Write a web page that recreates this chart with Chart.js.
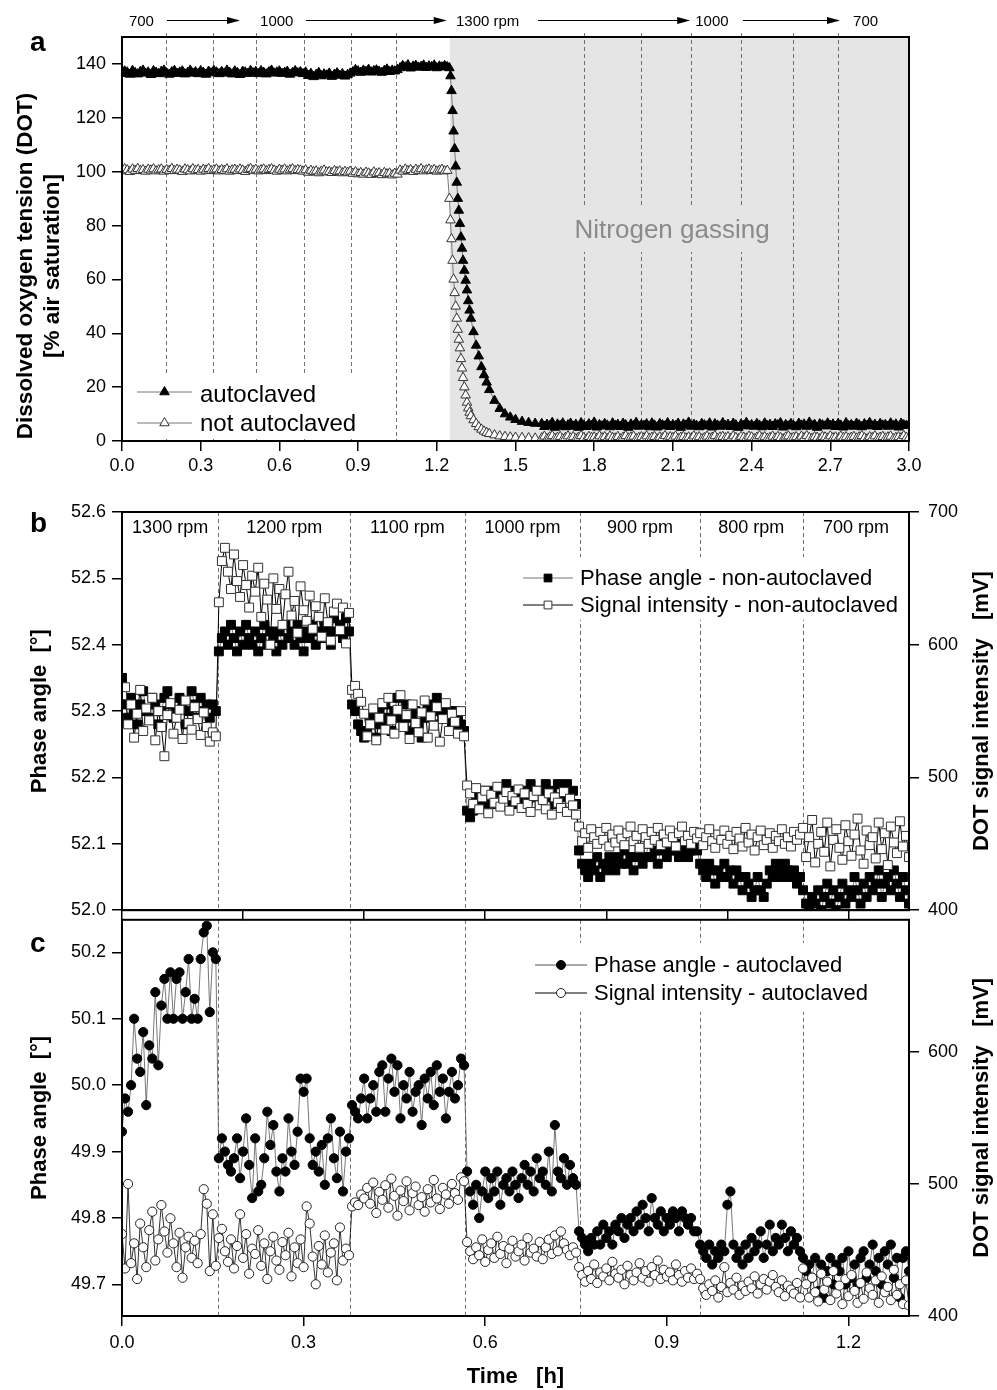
<!DOCTYPE html>
<html>
<head>
<meta charset="utf-8">
<title>DOT sensor: autoclaved vs. not autoclaved</title>
<script src="https://cdn.jsdelivr.net/npm/chart.js@4.4.1/dist/chart.umd.min.js"></script>
<style>
  html, body { margin: 0; padding: 0; background: #fff; }
  #page { position: relative; width: 997px; height: 1390px; }
  #page canvas { position: absolute; left: 0; }
</style>
</head>
<body>
<div id="page">
  <canvas id="chartA" width="997" height="490" style="top:0px"></canvas>
  <canvas id="chartB" width="997" height="440" style="top:490px"></canvas>
  <canvas id="chartC" width="997" height="490" style="top:900px"></canvas>
</div>
<script>
const FONT = '"Liberation Sans", Arial, sans-serif';
Chart.defaults.font.family = FONT;
Chart.defaults.color = '#000';

// ---------- panel a : DOT during rpm steps and nitrogen gassing ----------
const timeA = [
  0,0.01,0.02,0.03,0.04,0.05,0.06,0.07,0.08,0.09,
  0.1,0.11,0.12,0.13,0.14,0.15,0.16,0.17,0.18,0.19,
  0.2,0.21,0.22,0.23,0.24,0.25,0.26,0.27,0.28,0.29,
  0.3,0.31,0.32,0.33,0.34,0.35,0.36,0.37,0.38,0.39,
  0.4,0.41,0.42,0.43,0.44,0.45,0.46,0.47,0.48,0.49,
  0.5,0.51,0.52,0.53,0.54,0.55,0.56,0.57,0.58,0.59,
  0.6,0.61,0.62,0.63,0.64,0.65,0.66,0.67,0.68,0.69,
  0.7,0.71,0.72,0.73,0.74,0.75,0.76,0.77,0.78,0.79,
  0.8,0.81,0.82,0.83,0.84,0.85,0.86,0.87,0.88,0.89,
  0.9,0.91,0.92,0.93,0.94,0.95,0.96,0.97,0.98,0.99,
  1.0,1.01,1.02,1.03,1.04,1.05,1.06,1.07,1.08,1.09,
  1.1,1.11,1.12,1.13,1.14,1.15,1.16,1.17,1.18,1.19,
  1.2,1.21,1.22,1.23,1.24,
  1.248,1.252,1.256,1.26,1.264,1.268,1.272,1.276,1.28,1.284,1.288,1.292,1.296,1.3,
  1.305,1.31,1.315,1.32,1.325,1.33,1.34,1.35,1.36,1.37,1.38,1.39,1.4,
  1.42,1.44,1.46,1.48,1.5,1.525,1.55,1.575,
  1.6,1.61,1.62,1.63,1.64,1.65,1.66,1.67,1.68,1.69,
  1.7,1.71,1.72,1.73,1.74,1.75,1.76,1.77,1.78,1.79,
  1.8,1.81,1.82,1.83,1.84,1.85,1.86,1.87,1.88,1.89,
  1.9,1.91,1.92,1.93,1.94,1.95,1.96,1.97,1.98,1.99,
  2.0,2.01,2.02,2.03,2.04,2.05,2.06,2.07,2.08,2.09,
  2.1,2.11,2.12,2.13,2.14,2.15,2.16,2.17,2.18,2.19,
  2.2,2.21,2.22,2.23,2.24,2.25,2.26,2.27,2.28,2.29,
  2.3,2.31,2.32,2.33,2.34,2.35,2.36,2.37,2.38,2.39,
  2.4,2.41,2.42,2.43,2.44,2.45,2.46,2.47,2.48,2.49,
  2.5,2.51,2.52,2.53,2.54,2.55,2.56,2.57,2.58,2.59,
  2.6,2.61,2.62,2.63,2.64,2.65,2.66,2.67,2.68,2.69,
  2.7,2.71,2.72,2.73,2.74,2.75,2.76,2.77,2.78,2.79,
  2.8,2.81,2.82,2.83,2.84,2.85,2.86,2.87,2.88,2.89,
  2.9,2.91,2.92,2.93,2.94,2.95,2.96,2.97,2.98,2.99,
  3.0
];
const dotAutoclaved = [
  // 0 - 0.70 h
  136.4,137.3,136.9,136.1,137.5,136.7,136.2,137.1,137.6,136.5,
  136.9,136.0,137.4,136.8,136.3,137.2,137.6,136.6,136.1,137.0,
  137.5,136.4,136.9,137.3,136.2,136.7,137.6,136.5,137.0,136.3,
  137.4,136.8,136.1,137.2,136.6,137.5,136.9,136.3,137.1,136.5,
  137.6,136.8,136.2,137.3,136.7,136.0,137.2,136.9,136.4,137.5,
  136.6,137.1,136.3,137.4,136.8,136.2,137.0,137.6,136.5,136.9,
  137.3,136.4,136.8,137.2,136.1,136.7,137.4,136.6,137.0,136.3,
  136.9,
  // 0.71 - 0.87 h
  135.6,136.4,135.2,136.0,136.7,135.5,136.2,135.8,136.5,135.3,136.1,136.6,135.7,136.3,135.4,136.0,136.5,
  // 0.88 - 1.05 h
  137.0,137.8,137.3,136.8,137.6,137.1,137.9,136.9,137.4,137.7,137.2,136.8,137.5,138.0,137.1,137.6,137.3,137.8,
  // 1.06 - 1.24 h
  138.5,139.3,138.8,139.6,138.4,139.1,139.4,138.7,139.0,139.5,138.6,139.2,138.9,139.5,138.5,139.1,138.8,139.3,138.9,
  // nitrogen gassing: decay
  138.5,135.5,130,122.6,115,108.5,102,96,90,85.6,80.7,75.7,71.5,67,
  63.3,59.6,56,52,48.5,45.5,40.5,35.5,31.5,27.5,24.5,21.8,19,
  15,12,10,8.8,7.9,7.2,6.8,6.5,
  // 1.60 - 3.00 h
  6.4,5.3,6.1,5.7,6.8,5.0,6.2,5.6,6.6,5.2,
  5.9,6.5,5.4,6.1,5.0,6.7,5.8,5.3,6.3,5.6,
  6.9,5.1,6.0,5.5,6.4,5.8,5.2,6.6,5.7,6.1,
  5.3,6.5,5.9,5.0,6.2,5.6,6.8,5.4,6.0,5.7,
  6.3,5.2,6.6,5.8,5.1,6.4,5.9,5.5,6.7,5.3,
  6.0,5.6,6.5,5.0,6.2,5.8,6.9,5.4,6.1,5.7,
  5.2,6.4,5.9,5.5,6.6,5.1,6.3,5.8,5.4,6.7,
  5.6,6.1,5.3,6.5,5.9,5.0,6.2,5.7,6.8,5.5,
  6.0,5.4,6.4,5.8,5.2,6.6,5.6,6.1,5.3,6.3,
  5.9,6.7,5.1,6.0,5.5,6.4,5.7,5.2,6.5,5.8,
  6.2,5.4,6.9,5.6,6.1,5.0,6.3,5.9,5.5,6.6,
  5.7,6.2,5.3,6.4,5.8,5.1,6.7,5.6,6.0,5.4,
  6.5,5.9,5.2,6.3,5.7,6.8,5.5,6.1,5.3,6.4,
  5.8,6.0,5.4,6.6,5.6,6.2,5.1,6.5,5.9,5.7,
  6.1
];
const dotNotAutoclaved = [
  // 0 - 0.70 h
  100.2,101.0,100.6,100.0,100.9,100.4,101.1,100.3,100.7,100.1,
  100.8,100.5,101.0,100.2,100.6,100.9,100.1,100.7,100.4,101.1,
  100.3,100.8,100.5,100.0,100.9,100.6,100.2,101.0,100.4,100.7,
  100.1,100.8,100.5,101.1,100.3,100.6,100.9,100.2,100.7,100.4,
  101.0,100.1,100.6,100.8,100.3,100.9,100.5,100.0,100.7,101.1,
  100.4,100.8,100.2,100.6,100.9,100.3,100.7,101.0,100.5,100.1,
  100.8,100.4,100.9,100.2,100.6,101.0,100.3,100.7,100.5,100.1,
  100.6,
  // 0.71 - 0.87 h
  99.7,100.4,99.9,100.2,99.5,100.1,100.5,99.8,100.0,99.6,100.3,99.9,100.2,99.5,100.0,99.7,100.1,
  // 0.88 - 1.05 h
  99.3,99.9,99.1,99.6,99.0,99.7,99.4,98.9,99.8,99.2,99.5,98.8,99.6,99.1,99.4,98.7,99.3,99.0,
  // 1.06 - 1.24 h
  100.5,100.1,100.9,100.3,100.7,100.0,100.8,100.4,101.0,100.2,100.6,100.9,100.3,100.7,100.1,100.5,100.8,100.2,100.4,
  // nitrogen gassing: decay
  90,82,75,67,60,55,50,45.5,41.4,37.7,34.5,30.5,27,23.5,
  20,17,14.3,12.2,10.6,9.3,7.8,6.4,5.2,4.3,3.6,3.1,2.7,
  2.2,1.8,1.6,1.4,1.3,1.2,1.1,1.0,
  // 1.60 - 3.00 h
  1.1,1.7,0.8,1.4,1.9,0.9,1.3,1.6,0.7,1.2,
  1.8,1.0,1.5,0.8,1.3,1.9,1.1,0.7,1.6,1.2,
  1.4,0.9,1.8,1.1,1.5,0.8,1.7,1.2,1.0,1.6,
  0.7,1.3,1.9,1.0,1.4,1.7,0.8,1.2,1.5,1.1,
  1.8,0.9,1.3,1.6,0.7,1.4,1.1,1.9,1.0,1.5,
  1.2,1.7,0.8,1.3,1.6,1.0,1.4,0.9,1.8,1.1,
  1.5,0.7,1.2,1.7,1.0,1.3,1.9,0.8,1.4,1.6,
  1.1,1.5,0.9,1.8,1.2,0.7,1.6,1.3,1.0,1.7,
  1.4,0.8,1.3,1.9,1.1,1.5,0.9,1.2,1.7,1.0,
  1.6,1.2,0.7,1.4,1.8,1.0,1.3,1.5,0.8,1.7,
  1.1,1.9,1.2,0.9,1.5,1.3,0.7,1.6,1.4,1.0,
  1.8,1.1,1.4,0.8,1.7,1.2,1.5,0.9,1.3,1.6,
  1.0,1.4,1.9,1.1,0.7,1.5,1.2,1.8,0.9,1.3,
  1.6,1.0,1.4,1.7,0.8,1.2,1.5,1.1,1.9,1.3,
  1.2
];
const rpmChangesA = [0.168, 0.347, 0.511, 0.695, 0.874, 1.046, 1.760, 1.980, 2.168, 2.359, 2.556, 2.728];
const gassingFrom = 1.25;
const xTicksA = [0, 0.3, 0.6, 0.9, 1.2, 1.5, 1.8, 2.1, 2.4, 2.7, 3.0];
const yTicksA = [0, 20, 40, 60, 80, 100, 120, 140];
const yTitleA = ['Dissolved oxygen tension (DOT)', '[% air saturation]'];

// ---------- panels b and c : rpm steps 1300 -> 700 ----------
const timeBC = [
  0,0.005,0.01,0.015,0.02,0.025,0.03,0.035,0.04,0.045,0.05,0.055,0.06,0.065,0.07,0.075,0.08,0.085,0.09,0.095,
  0.1,0.105,0.11,0.115,0.12,0.125,0.13,0.135,0.14,0.145,0.15,0.155,0.16,0.165,0.17,0.175,0.18,0.185,0.19,0.195,
  0.2,0.205,0.21,0.215,0.22,0.225,0.23,0.235,0.24,0.245,0.25,0.255,0.26,0.265,0.27,0.275,0.28,0.285,0.29,0.295,
  0.3,0.305,0.31,0.315,0.32,0.325,0.33,0.335,0.34,0.345,0.35,0.355,0.36,0.365,0.37,0.375,0.38,0.385,0.39,0.395,
  0.4,0.405,0.41,0.415,0.42,0.425,0.43,0.435,0.44,0.445,0.45,0.455,0.46,0.465,0.47,0.475,0.48,0.485,0.49,0.495,
  0.5,0.505,0.51,0.515,0.52,0.525,0.53,0.535,0.54,0.545,0.55,0.555,0.56,0.565,0.57,0.575,0.58,0.585,0.59,0.595,
  0.6,0.605,0.61,0.615,0.62,0.625,0.63,0.635,0.64,0.645,0.65,0.655,0.66,0.665,0.67,0.675,0.68,0.685,0.69,0.695,
  0.7,0.705,0.71,0.715,0.72,0.725,0.73,0.735,0.74,0.745,0.75,0.755,0.76,0.765,0.77,0.775,0.78,0.785,0.79,0.795,
  0.8,0.805,0.81,0.815,0.82,0.825,0.83,0.835,0.84,0.845,0.85,0.855,0.86,0.865,0.87,0.875,0.88,0.885,0.89,0.895,
  0.9,0.905,0.91,0.915,0.92,0.925,0.93,0.935,0.94,0.945,0.95,0.955,0.96,0.965,0.97,0.975,0.98,0.985,0.99,0.995,
  1.0,1.005,1.01,1.015,1.02,1.025,1.03,1.035,1.04,1.045,1.05,1.055,1.06,1.065,1.07,1.075,1.08,1.085,1.09,1.095,
  1.1,1.105,1.11,1.115,1.12,1.125,1.13,1.135,1.14,1.145,1.15,1.155,1.16,1.165,1.17,1.175,1.18,1.185,1.19,1.195,
  1.2,1.205,1.21,1.215,1.22,1.225,1.23,1.235,1.24,1.245,1.25,1.255,1.26,1.265,1.27,1.275,1.28,1.285,1.29,1.295,
  1.3
];
// panel b, phase angle [deg] (left axis)
const phaseNonAutoclaved = [
  52.35,52.31,52.29,52.32,52.30,52.28,52.31,52.33,52.30,52.29,52.32,52.31,52.28,52.30,52.32,52.33,
  52.31,52.29,52.30,52.32,52.31,52.28,52.30,52.33,52.31,52.29,52.32,52.30,52.31,52.29,52.31,52.30,
  52.39,52.41,52.42,52.40,52.43,52.41,52.39,52.42,52.40,52.43,52.41,52.40,52.42,52.39,52.41,52.43,52.40,52.42,52.41,52.39,52.42,52.40,
  52.43,52.41,52.42,52.40,52.43,52.41,52.39,52.42,52.41,52.43,52.40,52.42,52.41,52.43,52.42,52.40,52.44,52.42,52.43,52.41,52.44,52.42,
  52.31,52.30,52.28,52.27,52.26,52.27,52.29,52.28,52.26,52.30,52.28,52.31,52.29,52.27,52.30,52.32,52.29,52.28,52.31,
  52.27,52.29,52.30,52.28,52.26,52.29,52.31,52.30,52.28,52.32,52.30,52.31,52.29,52.30,52.28,52.30,52.29,52.28,52.27,
  52.15,52.14,52.15,52.17,52.16,52.18,52.17,52.16,52.18,52.17,52.16,52.18,52.17,52.19,52.17,52.16,52.18,52.17,52.18,
  52.16,52.17,52.19,52.18,52.17,52.16,52.18,52.19,52.17,52.18,52.16,52.19,52.17,52.18,52.19,52.17,52.18,52.16,
  52.09,52.07,52.06,52.05,52.07,52.06,52.08,52.05,52.07,52.06,52.08,52.07,52.06,52.08,52.07,52.09,52.07,52.08,52.06,52.08,
  52.09,52.07,52.08,52.10,52.08,52.09,52.07,52.09,52.10,52.08,52.09,52.10,52.09,52.08,52.10,52.09,52.08,52.09,52.10,52.09,
  52.07,52.06,52.05,52.07,52.06,52.04,52.06,52.05,52.07,52.05,52.06,52.04,52.06,52.05,52.03,52.05,52.04,
  52.02,52.03,52.05,52.03,52.02,52.04,52.06,52.05,52.07,52.06,52.05,52.07,52.06,52.05,52.06,52.04,52.05,
  52.03,52.01,52.00,52.02,52.01,52.03,52.00,52.02,52.04,52.01,52.03,52.00,52.02,52.04,52.01,52.03,52.02,52.05,
  52.03,52.01,52.04,52.02,52.05,52.03,52.04,52.06,52.02,52.04,52.05,52.03,52.06,52.04,52.02,52.05,52.03,52.01
];
// panel b, signal intensity [mV] (right axis)
const signalNonAutoclaved = [
  562,568,540,555,530,548,566,535,552,543,560,528,550,538,516,547,556,533,545,551,529,558,541,536,553,544,532,549,538,527,534,531,
  632,663,673,655,642,668,648,636,660,645,628,652,640,658,621,646,634,600,650,627,642,615,
  638,655,622,633,609,644,626,618,637,612,629,621,606,635,617,603,625,631,611,628,601,624,
  566,569,563,557,548,531,540,552,528,545,556,536,560,543,533,551,562,538,547,
  529,555,541,534,549,558,530,546,539,553,527,544,556,535,548,542,533,550,531,
  494,488,480,492,476,485,490,473,487,481,493,478,484,489,475,486,482,491,477,
  488,480,474,486,490,479,483,476,488,472,485,481,477,489,474,484,479,472,
  463,452,458,447,461,455,450,459,453,462,448,457,451,460,454,449,458,463,452,456,
  447,461,455,450,459,453,462,449,457,451,460,455,448,458,463,452,456,450,459,454,
  458,449,455,461,452,447,457,453,460,450,456,446,459,454,448,462,451,
  457,445,455,460,449,453,458,447,456,452,461,450,455,448,459,453,457,
  462,440,455,468,436,450,459,444,466,433,453,461,447,438,464,452,441,457,
  469,445,435,460,449,455,439,466,446,458,434,463,451,443,467,448,456,440
];
// panel c, phase angle [deg] (left axis)
const phaseAutoclaved = [
  49.93,49.98,49.96,50.00,50.10,50.04,50.02,50.08,49.97,50.06,50.04,50.14,50.03,50.12,50.16,50.10,
  50.17,50.10,50.16,50.17,50.10,50.14,50.19,50.10,50.13,50.10,50.19,50.23,50.24,50.11,50.20,50.19,
  49.89,49.92,49.90,49.88,49.87,49.89,49.92,49.86,49.90,49.95,49.88,49.83,49.92,49.84,49.85,49.89,49.96,49.91,49.94,49.87,49.84,49.89,
  49.87,49.95,49.90,49.88,49.93,50.01,49.99,50.01,49.92,49.88,49.90,49.87,49.91,49.85,49.92,49.95,49.89,49.86,49.93,49.84,49.90,49.92,
  49.97,49.96,49.95,49.98,50.01,49.95,49.98,50.00,49.96,50.02,50.03,49.96,50.01,50.04,49.99,50.03,49.95,50.00,49.98,
  50.02,49.96,49.99,50.00,49.94,50.01,49.98,50.02,49.97,50.03,49.99,50.01,49.95,49.99,50.02,49.98,50.00,50.04,50.03,
  49.87,49.84,49.82,49.85,49.80,49.84,49.87,49.83,49.86,49.84,49.87,49.82,49.85,49.86,49.84,49.87,49.85,49.83,49.86,
  49.88,49.85,49.87,49.84,49.89,49.86,49.87,49.85,49.90,49.84,49.94,49.87,49.86,49.89,49.85,49.88,49.86,49.85,
  49.78,49.77,49.76,49.75,49.77,49.76,49.78,49.76,49.79,49.77,49.78,49.76,49.79,49.78,49.80,49.77,49.79,49.80,49.78,49.81,
  49.79,49.82,49.80,49.78,49.83,49.80,49.79,49.81,49.78,49.80,49.79,49.81,49.80,49.78,49.81,49.80,49.79,49.80,49.78,49.78,
  49.76,49.75,49.74,49.76,49.73,49.75,49.74,49.76,49.75,49.82,49.84,49.76,49.74,49.75,49.73,49.76,49.74,
  49.77,49.75,49.76,49.78,49.74,49.76,49.79,49.75,49.77,49.76,49.79,49.77,49.75,49.78,49.76,49.77,49.75,
  49.74,49.72,49.73,49.71,49.74,49.69,49.73,49.68,49.72,49.74,49.70,49.73,49.72,49.74,49.70,49.75,49.71,49.73,
  49.70,49.74,49.75,49.71,49.73,49.76,49.72,49.74,49.70,49.75,49.73,49.76,49.71,49.74,49.68,49.74,49.75,49.72
];
// panel c, signal intensity [mV] (right axis)
const signalAutoclaved = [
  462,436,500,440,455,428,470,452,437,465,479,442,458,484,464,448,474,455,437,463,429,452,460,444,457,440,462,496,485,434,477,438,
  459,466,449,441,458,436,453,477,444,462,432,451,447,465,438,455,428,449,460,442,435,456,
  446,463,430,452,440,458,437,483,470,445,424,453,439,461,433,448,455,427,467,442,451,446,
  483,486,484,492,489,497,485,501,478,494,488,499,482,504,491,476,495,487,502,
  480,493,498,484,490,479,496,486,503,489,481,497,492,485,500,493,488,505,502,
  456,449,443,452,446,458,441,450,455,444,460,447,453,440,451,457,445,449,454,
  442,459,448,451,445,456,443,452,458,447,461,449,464,455,450,446,452,448,
  437,431,426,434,428,439,425,433,430,436,427,441,432,429,435,424,438,431,427,433,
  440,429,434,426,437,431,442,428,435,430,433,427,439,431,426,434,429,436,428,432,
  428,421,416,424,419,427,414,422,437,418,425,420,429,416,423,419,426,
  421,430,417,424,428,420,426,431,422,418,427,415,423,420,417,425,414,
  436,424,414,429,418,411,432,420,426,412,434,417,423,409,428,415,431,419,
  410,425,413,433,421,416,427,410,430,418,422,412,435,416,424,409,427,408
];
const rpmChangesBC = [0.159, 0.377, 0.566, 0.757, 0.954, 1.125];
const rpmLabelsBC = ['1300 rpm', '1200 rpm', '1100 rpm', '1000 rpm', '900 rpm', '800 rpm', '700 rpm'];
const xTickMarksB = [0, 0.2, 0.4, 0.6, 0.8, 1.0, 1.2];
const xTicksC = [0, 0.3, 0.6, 0.9, 1.2];
const yTicksB = [52.0, 52.1, 52.2, 52.3, 52.4, 52.5, 52.6];
const yTicksC = [49.7, 49.8, 49.9, 50.0, 50.1, 50.2];
const signalTicksB = [400, 500, 600, 700];
const signalTicksC = [400, 500, 600];

// ---------- helpers ----------
const xy = (xs, ys) => xs.map((x, i) => ({ x: x, y: ys[i] }));
const fixTicks = values => axis => { axis.ticks = values.map(v => ({ value: v })); };
const oneDecimal = v => Number(v).toFixed(1);

function tickAxis(extra) {
  return Object.assign({
    type: 'linear',
    ticks: { autoSkip: false, maxRotation: 0, font: { size: 18 }, color: '#000' },
    grid: { drawOnChartArea: false, tickLength: 10, color: '#000', lineWidth: 1.5 },
    border: { display: true, color: '#000', width: 2 }
  }, extra);
}

function drawSwitchLines(chart, times, ext) {
  const { ctx, chartArea: a, scales: { x } } = chart;
  ctx.save();
  ctx.strokeStyle = '#707070';
  ctx.lineWidth = 1;
  ctx.setLineDash([4, 3]);
  times.forEach(t => {
    const px = Math.round(x.getPixelForValue(t)) + 0.5;
    ctx.beginPath();
    ctx.moveTo(px, a.top - ext);
    ctx.lineTo(px, a.bottom);
    ctx.stroke();
  });
  ctx.restore();
}

function drawFrame(chart) {
  const { ctx, chartArea: a } = chart;
  ctx.save();
  ctx.strokeStyle = '#000';
  ctx.lineWidth = 2;
  ctx.strokeRect(a.left, a.top, a.right - a.left, a.bottom - a.top);
  ctx.restore();
}

function drawText(ctx, text, x, y, font, align, color) {
  ctx.save();
  ctx.font = font;
  ctx.fillStyle = color || '#000';
  ctx.textAlign = align || 'left';
  ctx.textBaseline = 'alphabetic';
  ctx.fillText(text, x, y);
  ctx.restore();
}

function drawLegend(chart, box, rows) {
  const ctx = chart.ctx;
  ctx.save();
  ctx.fillStyle = '#fff';
  ctx.fillRect(box.x, box.y, box.w, box.h);
  rows.forEach(r => {
    const ds = chart.data.datasets[r.ds];
    ctx.strokeStyle = ds.borderColor;
    ctx.lineWidth = 1;
    ctx.beginPath();
    ctx.moveTo(r.x0, r.y);
    ctx.lineTo(r.x1, r.y);
    ctx.stroke();
    ctx.fillStyle = ds.pointBackgroundColor;
    ctx.strokeStyle = ds.pointBorderColor;
    Chart.helpers.drawPoint(ctx, { pointStyle: ds.pointStyle, radius: r.radius, rotation: 0, borderWidth: 1 }, (r.x0 + r.x1) / 2, r.y);
    drawText(ctx, ds.label, r.tx, r.base, r.size + 'px ' + FONT);
  });
  ctx.restore();
}

// rotated (bottom-to-top) axis title, lines stacked left to right
function drawVerticalTitle(ctx, lines, xs, cy, font) {
  ctx.save();
  ctx.font = font;
  ctx.fillStyle = '#000';
  ctx.textAlign = 'center';
  ctx.textBaseline = 'middle';
  lines.forEach((s, i) => {
    ctx.save();
    ctx.translate(xs[i], cy);
    ctx.rotate(-Math.PI / 2);
    ctx.fillText(s, 0, 0);
    ctx.restore();
  });
  ctx.restore();
}

function drawArrow(ctx, x0, x1, y) {
  ctx.beginPath();
  ctx.moveTo(x0, y);
  ctx.lineTo(x1 - 10, y);
  ctx.stroke();
  ctx.beginPath();
  ctx.moveTo(x1, y);
  ctx.lineTo(x1 - 13, y - 3.5);
  ctx.lineTo(x1 - 13, y + 3.5);
  ctx.closePath();
  ctx.fill();
}

const baseOptions = {
  responsive: false,
  animation: false,
  events: [],
  plugins: { legend: { display: false }, tooltip: { enabled: false } }
};

// ---------- chart a ----------
const panelA = {
  id: 'panelA',
  beforeDatasetsDraw(chart) {
    const { ctx, chartArea: a, scales: { x, y } } = chart;
    const gx = x.getPixelForValue(gassingFrom);
    ctx.save();
    ctx.fillStyle = '#e5e5e5';
    ctx.fillRect(gx, a.top, a.right - gx, a.bottom - a.top);
    ctx.restore();
    drawSwitchLines(chart, rpmChangesA, 4);
    // label of the gassing phase, on a patch of the shading colour
    const tx = x.getPixelForValue(1.725), ty = y.getPixelForValue(75.4);
    ctx.save();
    ctx.font = '26px ' + FONT;
    const w = ctx.measureText('Nitrogen gassing').width;
    ctx.fillStyle = '#e5e5e5';
    ctx.fillRect(tx - 6, ty - 31, w + 12, 45);
    ctx.restore();
    drawText(ctx, 'Nitrogen gassing', tx, ty, '26px ' + FONT, 'left', '#8a8a8a');
  },
  afterDatasetsDraw(chart) {
    const { ctx, chartArea: a, scales: { x } } = chart;
    drawLegend(chart, { x: 130, y: 374, w: 240, h: 62 }, [
      { ds: 0, x0: 137, x1: 192, y: 392, radius: 5.5, tx: 200, base: 402, size: 24 },
      { ds: 1, x0: 137, x1: 192, y: 423, radius: 5.5, tx: 200, base: 431, size: 24 }
    ]);
    drawFrame(chart);
    drawVerticalTitle(ctx, yTitleA, [26, 53], (a.top + a.bottom) / 2 + 27, 'bold 22.5px ' + FONT);
    // stirrer speed programme above the plot
    const f = '15px ' + FONT;
    drawText(ctx, '700', x.getPixelForValue(0.074), 26, f, 'center');
    drawText(ctx, '1000', x.getPixelForValue(0.590), 26, f, 'center');
    drawText(ctx, '1300 rpm', x.getPixelForValue(1.273), 26, f, 'left');
    drawText(ctx, '1000', x.getPixelForValue(2.185), 26, f, 'left');
    drawText(ctx, '700', x.getPixelForValue(2.787), 26, f, 'left');
    ctx.save();
    ctx.strokeStyle = '#000';
    ctx.fillStyle = '#000';
    ctx.lineWidth = 1;
    [[0.171, 0.450], [0.701, 1.238], [1.586, 2.166], [2.367, 2.737]].forEach(p =>
      drawArrow(ctx, x.getPixelForValue(p[0]), x.getPixelForValue(p[1]), 20.5));
    ctx.restore();
    drawText(ctx, 'a', 30, 51, 'bold 28px ' + FONT);
  }
};

new Chart(document.getElementById('chartA'), {
  type: 'line',
  data: {
    datasets: [
      { label: 'autoclaved', data: xy(timeA, dotAutoclaved), order: 1, clip: 0,
        borderColor: '#777', borderWidth: 1, pointStyle: 'triangle', pointRadius: 5.5,
        pointBackgroundColor: '#000', pointBorderColor: '#000', pointBorderWidth: 1 },
      { label: 'not autoclaved', data: xy(timeA, dotNotAutoclaved), order: 0, clip: 0,
        borderColor: '#777', borderWidth: 1, pointStyle: 'triangle', pointRadius: 5.5,
        pointBackgroundColor: '#fff', pointBorderColor: '#333', pointBorderWidth: 1 }
    ]
  },
  options: Object.assign({}, baseOptions, {
    layout: { padding: { top: 37, right: 88, bottom: 0, left: 0 } },
    scales: {
      x: tickAxis({ min: 0, max: 3, afterBuildTicks: fixTicks(xTicksA), afterFit: s => { s.height = 49; },
        ticks: { autoSkip: false, maxRotation: 0, padding: 4, font: { size: 18 }, callback: oneDecimal } }),
      y: tickAxis({ min: 0, max: 150, afterBuildTicks: fixTicks(yTicksA), afterFit: s => { s.width = 122; },
        ticks: { autoSkip: false, padding: 6, font: { size: 18 } } })
    }
  }),
  plugins: [panelA]
});

// ---------- chart b ----------
const panelB = {
  id: 'panelB',
  beforeDatasetsDraw(chart) { drawSwitchLines(chart, rpmChangesBC, 0); },
  afterDatasetsDraw(chart) {
    const { ctx, chartArea: a, scales: { x } } = chart;
    const edges = [x.min].concat(rpmChangesBC, [x.max]);
    rpmLabelsBC.forEach((s, i) => {
      const cx = (x.getPixelForValue(edges[i]) + x.getPixelForValue(edges[i + 1])) / 2;
      drawText(ctx, s, cx, a.top + 21, '18px ' + FONT, 'center');
    });
    drawLegend(chart, { x: 520, y: 67, w: 385, h: 63 }, [
      { ds: 0, x0: 523, x1: 573, y: 88, radius: 5.5, tx: 580, base: 95, size: 22 },
      { ds: 1, x0: 523, x1: 573, y: 115, radius: 5.5, tx: 580, base: 122, size: 22 }
    ]);
    drawFrame(chart);
    drawVerticalTitle(ctx, ['DOT signal intensity   [mV]'], [982], (a.top + a.bottom) / 2, 'bold 22px ' + FONT);
    drawText(ctx, 'b', 30, 42, 'bold 28px ' + FONT);
  }
};

new Chart(document.getElementById('chartB'), {
  type: 'line',
  data: {
    datasets: [
      { label: 'Phase angle - non-autoclaved', data: xy(timeBC, phaseNonAutoclaved), yAxisID: 'y', order: 1, clip: 0,
        borderColor: '#777', borderWidth: 1, pointStyle: 'rect', pointRadius: 6.3,
        pointBackgroundColor: '#000', pointBorderColor: '#000', pointBorderWidth: 1 },
      { label: 'Signal intensity - non-autoclaved', data: xy(timeBC, signalNonAutoclaved), yAxisID: 'y2', order: 0, clip: 0,
        borderColor: '#000', borderWidth: 1, pointStyle: 'rect', pointRadius: 6.3,
        pointBackgroundColor: '#fff', pointBorderColor: '#333', pointBorderWidth: 1 }
    ]
  },
  options: Object.assign({}, baseOptions, {
    layout: { padding: { top: 22, right: 0, bottom: 0, left: 0 } },
    scales: {
      x: tickAxis({ min: 0, max: 1.3, afterBuildTicks: fixTicks(xTickMarksB), afterFit: s => { s.height = 16; },
        ticks: { display: false } }),
      y: tickAxis({ position: 'left', min: 52.0, max: 52.6, afterBuildTicks: fixTicks(yTicksB), afterFit: s => { s.width = 122; },
        ticks: { autoSkip: false, padding: 6, font: { size: 18 }, callback: oneDecimal },
        title: { display: true, text: 'Phase angle  [°]', font: { size: 22, weight: 'bold' }, padding: { top: 27, bottom: 0 } } }),
      y2: tickAxis({ position: 'right', min: 400, max: 700, afterBuildTicks: fixTicks(signalTicksB), afterFit: s => { s.width = 88; },
        ticks: { autoSkip: false, padding: 9, font: { size: 18 } } })
    }
  }),
  plugins: [panelB]
});

// ---------- chart c ----------
const panelC = {
  id: 'panelC',
  beforeDatasetsDraw(chart) { drawSwitchLines(chart, rpmChangesBC, 0); },
  afterDatasetsDraw(chart) {
    const { ctx, chartArea: a } = chart;
    drawLegend(chart, { x: 530, y: 43, w: 365, h: 69 }, [
      { ds: 0, x0: 535, x1: 587, y: 65, radius: 4.5, tx: 594, base: 72, size: 22 },
      { ds: 1, x0: 535, x1: 587, y: 93, radius: 4.5, tx: 594, base: 100, size: 22 }
    ]);
    drawFrame(chart);
    drawVerticalTitle(ctx, ['DOT signal intensity   [mV]'], [982], (a.top + a.bottom) / 2, 'bold 22px ' + FONT);
    drawText(ctx, 'c', 30, 52, 'bold 28px ' + FONT);
  }
};

new Chart(document.getElementById('chartC'), {
  type: 'line',
  data: {
    datasets: [
      { label: 'Phase angle - autoclaved', data: xy(timeBC, phaseAutoclaved), yAxisID: 'y', order: 1, clip: 0,
        borderColor: '#555', borderWidth: 0.8, pointStyle: 'circle', pointRadius: 4.6,
        pointBackgroundColor: '#000', pointBorderColor: '#000', pointBorderWidth: 1 },
      { label: 'Signal intensity - autoclaved', data: xy(timeBC, signalAutoclaved), yAxisID: 'y2', order: 0, clip: 0,
        borderColor: '#000', borderWidth: 0.8, pointStyle: 'circle', pointRadius: 4.6,
        pointBackgroundColor: '#fff', pointBorderColor: '#222', pointBorderWidth: 1 }
    ]
  },
  options: Object.assign({}, baseOptions, {
    layout: { padding: { top: 14, right: 0, bottom: 0, left: 0 } },
    scales: {
      x: tickAxis({ min: 0, max: 1.3, afterBuildTicks: fixTicks(xTicksC), afterFit: s => { s.height = 74; },
        ticks: { autoSkip: false, maxRotation: 0, padding: 6, font: { size: 18 }, callback: oneDecimal },
        title: { display: true, text: 'Time   [h]', font: { size: 22, weight: 'bold' }, padding: { top: 0, bottom: 0 } } }),
      y: tickAxis({ position: 'left', min: 49.6525, max: 50.249, afterBuildTicks: fixTicks(yTicksC), afterFit: s => { s.width = 122; },
        ticks: { autoSkip: false, padding: 6, font: { size: 18 }, callback: oneDecimal },
        title: { display: true, text: 'Phase angle  [°]', font: { size: 22, weight: 'bold' }, padding: { top: 27, bottom: 0 } } }),
      y2: tickAxis({ position: 'right', min: 400, max: 700, afterBuildTicks: fixTicks(signalTicksC), afterFit: s => { s.width = 88; },
        ticks: { autoSkip: false, padding: 9, font: { size: 18 } } })
    }
  }),
  plugins: [panelC]
});
</script>
</body>
</html>
